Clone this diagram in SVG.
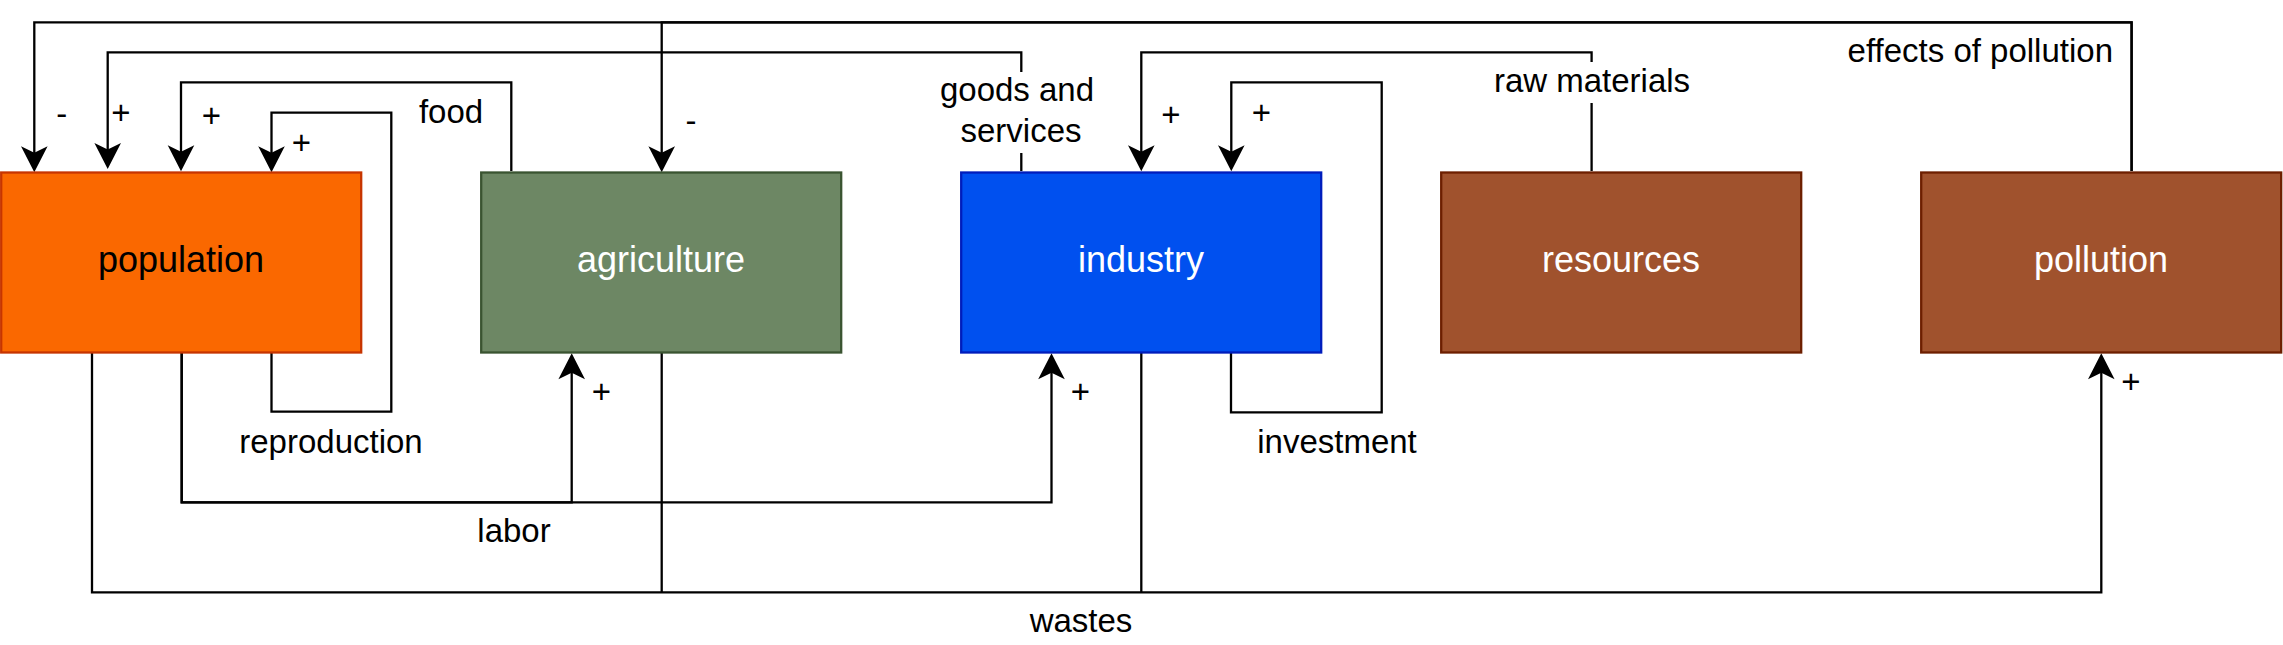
<svg xmlns="http://www.w3.org/2000/svg" width="2283" height="645" viewBox="0 0 2283 645">
<style>
.box{stroke-width:2.3}
.bt{font-family:"Liberation Sans",Arial,Helvetica,sans-serif;font-size:36px;text-anchor:middle;fill:#ffffff}
.lb{font-family:"Liberation Sans",Arial,Helvetica,sans-serif;font-size:33px;text-anchor:middle;fill:#000000}
.e{fill:none;stroke:#000000;stroke-width:2.3;marker-end:url(#arr)}
.n{fill:none;stroke:#000000;stroke-width:2.3}
</style>
<defs>
<marker id="arr" markerUnits="userSpaceOnUse" orient="auto" refX="0" refY="0" markerWidth="1" markerHeight="1" overflow="visible">
<path d="M8,0 L-18,-13.3 L-11.5,0 L-18,13.3 Z" fill="#000000"/>
</marker>
</defs>
<rect width="2283" height="645" fill="#ffffff"/>
<g id="connectors">
<path class="e" d="M2131.6,171 V22.3 H34.3 V164.3"/>
<path class="e" d="M2131.6,171 V22.3 H661.7 V164.3"/>
<path class="e" d="M1021.3,171 V52.3 H107.7 V161"/>
<path class="e" d="M511.3,171 V82.3 H181 V163.3"/>
<path class="e" d="M271.5,353 V411.7 H391.3 V112.7 H271.5 V164.3"/>
<path class="e" d="M181.7,353 V502.3 H571.7 V361.3"/>
<path class="e" d="M181.7,353 V502.3 H1051.5 V361.3"/>
<path class="e" d="M92,353 V592.3 H2101.3 V361.3"/>
<path class="n" d="M661.7,353 V592.3"/>
<path class="n" d="M1141.3,353 V592.3"/>
<path class="e" d="M1231,353 V412.3 H1381.7 V82.3 H1231.3 V163.3"/>
<path class="e" d="M1591.6,171 V52.3 H1141.3 V163.3"/>
</g>
<g id="population"><rect class="box" x="1.2" y="172.5" width="360" height="180" fill="#fa6800" stroke="#c73500"/><text class="bt" x="181" y="272" style="fill:#000000">population</text></g>
<g id="agriculture"><rect class="box" x="481.2" y="172.5" width="360" height="180" fill="#6d8764" stroke="#3a5431"/><text class="bt" x="661" y="272">agriculture</text></g>
<g id="industry"><rect class="box" x="961.2" y="172.5" width="360" height="180" fill="#0050ef" stroke="#001dbc"/><text class="bt" x="1141" y="272">industry</text></g>
<g id="resources"><rect class="box" x="1441.2" y="172.5" width="360" height="180" fill="#a0522d" stroke="#6d1f00"/><text class="bt" x="1621" y="272">resources</text></g>
<g id="pollution"><rect class="box" x="1921.2" y="172.5" width="360" height="180" fill="#a0522d" stroke="#6d1f00"/><text class="bt" x="2101" y="272">pollution</text></g>
<g id="labels">
<text class="lb" x="2113" y="61.5" style="text-anchor:end">effects of pollution</text>
<text class="lb" x="61.7" y="125">-</text>
<text class="lb" x="121" y="124">+</text>
<text class="lb" x="211.3" y="127">+</text>
<text class="lb" x="301.3" y="153.5">+</text>
<text class="lb" x="451" y="122.5">food</text>
<text class="lb" x="691" y="131.6">-</text>
<rect x="938" y="72" width="162" height="81" fill="#ffffff"/>
<text class="lb" x="1017" y="101">goods and</text>
<text class="lb" x="1021" y="142">services</text>
<text class="lb" x="1171" y="126.3">+</text>
<text class="lb" x="1261.3" y="123.6">+</text>
<rect x="1492" y="62" width="200" height="41" fill="#ffffff"/>
<text class="lb" x="1592" y="92.3">raw materials</text>
<text class="lb" x="331" y="452.6">reproduction</text>
<text class="lb" x="601.3" y="403">+</text>
<text class="lb" x="1080.5" y="402.5">+</text>
<text class="lb" x="514" y="541.6">labor</text>
<text class="lb" x="1337" y="452.6">investment</text>
<text class="lb" x="1081" y="631.6">wastes</text>
<text class="lb" x="2131" y="393">+</text>
</g>
</svg>
